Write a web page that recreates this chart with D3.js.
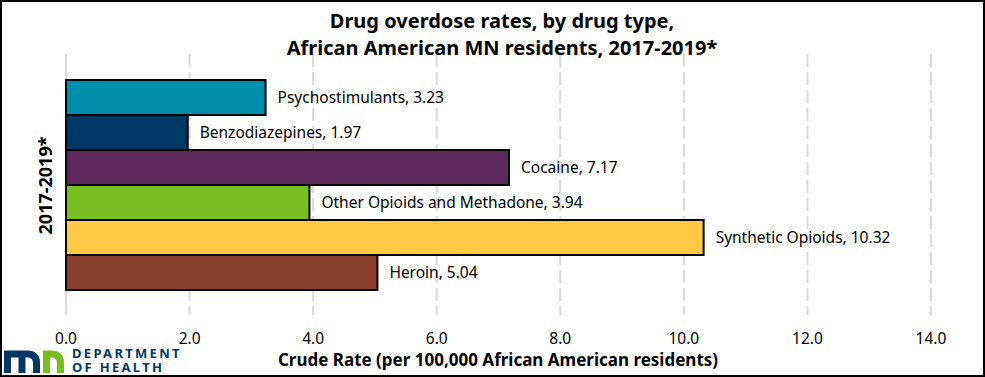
<!DOCTYPE html>
<html>
<head>
<meta charset="utf-8">
<script src="https://cdn.jsdelivr.net/npm/d3@7"></script>
<style>
  body { margin: 0; background: #fff; }
  text { font-family: "Noto Sans", "Open Sans", sans-serif; }
</style>
</head>
<body>
<div id="chart"></div>
<script>
// data
var drugs = ["Psychostimulants", "Benzodiazepines", "Cocaine", "Other Opioids and Methadone", "Synthetic Opioids", "Heroin"];
var rates = [3.23, 1.97, 7.17, 3.94, 10.32, 5.04];
var drugColors = ["#008FAA", "#003865", "#5D295F", "#78BE21", "#FFC845", "#8B3F2E"];
var xTicks = [0, 2, 4, 6, 8, 10, 12, 14];
var period = "2017-2019*";
var titleLines = ["Drug overdose rates, by drug type,", "African American MN residents, 2017-2019*"];
var xTitle = "Crude Rate (per 100,000 African American residents)";

var W = 985, H = 377;
var plotTop = 54, plotBottom = 315;

var svg = d3.select("#chart").append("svg")
    .attr("width", W)
    .attr("height", H);

svg.append("rect")
    .attr("x", 1).attr("y", 1)
    .attr("width", W - 2).attr("height", H - 2)
    .attr("fill", "#fff")
    .attr("stroke", "#000")
    .attr("stroke-width", 2);

var x = d3.scaleLinear()
    .domain([0, 14])
    .range([66, 931]);

var y = d3.scaleBand()
    .domain(drugs)
    .range([80, 290])
    .padding(0);

// gridlines
svg.selectAll(".grid")
    .data(xTicks)
    .enter().append("line")
    .attr("x1", function (d) { return x(d); })
    .attr("x2", function (d) { return x(d); })
    .attr("y1", plotTop)
    .attr("y2", plotBottom)
    .attr("stroke", "#d9d9d9")
    .attr("stroke-width", 2)
    .attr("stroke-dasharray", function (d) { return d === 0 ? null : "13,5"; });

// tick labels
svg.selectAll(".tick")
    .data(xTicks)
    .enter().append("text")
    .attr("x", function (d) { return x(d); })
    .attr("y", 344)
    .attr("text-anchor", "middle")
    .style("font-size", "15.5px")
    .attr("fill", "#000")
    .text(function (d) { return d.toFixed(1); });

// bars
var rows = drugs.map(function (d, i) { return { name: d, value: rates[i], color: drugColors[i] }; });

svg.selectAll(".bar")
    .data(rows)
    .enter().append("rect")
    .attr("x", x(0))
    .attr("y", function (d) { return y(d.name); })
    .attr("width", function (d) { return x(d.value) - x(0); })
    .attr("height", y.bandwidth())
    .attr("fill", function (d) { return d.color; })
    .attr("stroke", "#000")
    .attr("stroke-width", 2);

svg.selectAll(".lbl")
    .data(rows)
    .enter().append("text")
    .attr("x", function (d) { return x(d.value) + 12; })
    .attr("y", function (d) { return y(d.name) + y.bandwidth() / 2; })
    .attr("dy", "0.35em")
    .style("font-size", "15.5px")
    .text(function (d) { return d.name + ", " + d.value.toFixed(2); });

// category label
svg.append("text")
    .attr("transform", "translate(52," + ((plotTop + plotBottom) / 2 + 1) + ") rotate(-90)")
    .attr("text-anchor", "middle")
    .style("font-size", "18px")
    .style("font-weight", "bold")
    .text(period);

// title
svg.selectAll(".title")
    .data(titleLines)
    .enter().append("text")
    .attr("x", 502)
    .attr("y", function (d, i) { return 28 + i * 27; })
    .attr("text-anchor", "middle")
    .style("font-size", "20px")
    .style("font-weight", "bold")
    .text(function (d) { return d; });

// axis title
svg.append("text")
    .attr("x", 498)
    .attr("y", 366)
    .attr("text-anchor", "middle")
    .style("font-size", "17px")
    .style("font-weight", "bold")
    .text(xTitle);

// MDH logo
var logo = svg.append("g");
logo.append("path")
    .attr("d", "M7.5,373 V354 H27 Q36.5,354 36.5,363 V373 M22,354 V373")
    .attr("fill", "none")
    .attr("stroke", "#003865")
    .attr("stroke-width", 7);
logo.append("path")
    .attr("d", "M46.5,373 V354 H51 Q60.5,354 60.5,363 V373")
    .attr("fill", "none")
    .attr("stroke", "#78BE21")
    .attr("stroke-width", 7);
logo.append("text")
    .attr("x", 72).attr("y", 358)
    .style("font-size", "13px")
    .style("font-weight", "bold")
    .style("letter-spacing", "2.3px")
    .attr("fill", "#003865")
    .text("DEPARTMENT");
logo.append("text")
    .attr("x", 72).attr("y", 372)
    .style("font-size", "13px")
    .style("font-weight", "bold")
    .style("letter-spacing", "2.3px")
    .attr("fill", "#003865")
    .text("OF HEALTH");
</script>
</body>
</html>
